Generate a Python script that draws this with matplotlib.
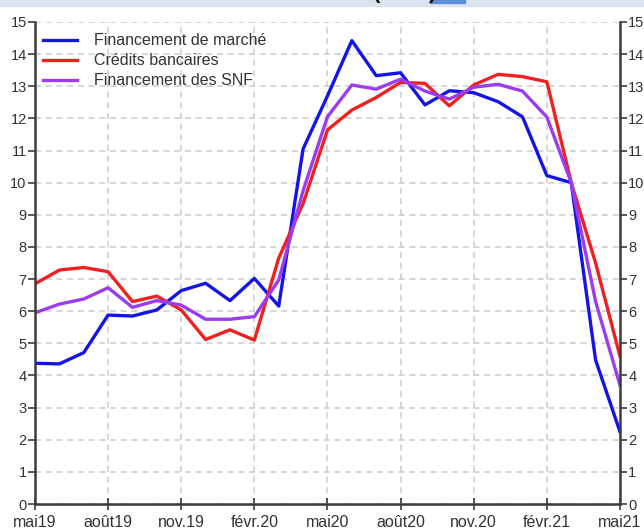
import numpy as np
import matplotlib.pyplot as plt
from matplotlib.patches import Rectangle

plt.rcParams['font.family'] = ['Liberation Sans', 'DejaVu Sans']

# monthly points, mai 2019 -> mai 2021
months = list(range(25))
tick_pos = [0, 3, 6, 9, 12, 15, 18, 21, 24]
tick_labels = ['mai19', 'août19', 'nov.19', 'févr.20', 'mai20', 'août20', 'nov.20', 'févr.21', 'mai21']

marche = [4.38, 4.36, 4.71, 5.88, 5.85, 6.04, 6.64, 6.87, 6.33, 7.02, 6.16, 11.05,
          12.7, 14.42, 13.33, 13.42, 12.42, 12.86, 12.80, 12.52, 12.05, 10.22, 10.0, 4.48, 2.25]
credits = [6.85, 7.28, 7.36, 7.23, 6.30, 6.47, 6.04, 5.12, 5.42, 5.10, 7.65, 9.35,
           11.64, 12.26, 12.65, 13.12, 13.09, 12.39, 13.04, 13.37, 13.30, 13.14, 10.0, 7.5, 4.6]
snf = [5.95, 6.22, 6.38, 6.73, 6.12, 6.33, 6.19, 5.75, 5.75, 5.83, 6.97, 9.75,
       12.05, 13.04, 12.91, 13.22, 12.85, 12.60, 12.97, 13.06, 12.85, 12.04, 10.0, 6.3, 3.7]

fig = plt.figure(figsize=(6.44, 5.31), dpi=100)
ax = fig.add_axes([0.0543, 0.0508, 0.9084, 0.9078])

ax.plot(months, marche, color='#1414e6', lw=2.4, label='Financement de marché')
ax.plot(months, credits, color='#f02020', lw=2.4, label='Crédits bancaires')
ax.plot(months, snf, color='#9b3cf0', lw=2.4, label='Financement des SNF')

ax.set_xlim(0, 24)
ax.set_ylim(0, 15)
ax.set_xticks(tick_pos)
ax.set_xticklabels(tick_labels)
ax.set_yticks(range(16))
ax.grid(True, color='#cccccc', ls=(0, (4, 3)), lw=1.1)
ax.set_axisbelow(True)

for s in ['left', 'right', 'bottom']:
    ax.spines[s].set_color('#3c3c3c')
    ax.spines[s].set_linewidth(1.8)
ax.spines['top'].set_visible(False)

ax.tick_params(axis='y', direction='out', length=5, width=1.2, color='#3c3c3c',
               labelsize=10.5, labelcolor='#333333', right=True, labelright=True, pad=1)
ax.tick_params(axis='x', direction='inout', length=8, width=1.2, color='#3c3c3c',
               labelsize=11.5, labelcolor='#333333', pad=4)

leg = ax.legend(loc='upper left', frameon=False, fontsize=11.5, handlelength=2.1,
                handletextpad=1.1, labelspacing=0.32, borderaxespad=0.3,
                bbox_to_anchor=(-0.005, 1.0))
for t in leg.get_texts():
    t.set_color('#333333')

# top band (cropped header)
fig.patches.append(Rectangle((0, 1 - 6 / 531), 1, 6 / 531, transform=fig.transFigure,
                             color='#dbe3ee', zorder=0))
fig.text(0.475, 1 - 3 / 531, 'Taux de croissance (en %)', ha='center', va='bottom',
         fontsize=15, fontweight='bold', color='#111111')
fig.patches.append(Rectangle((430 / 644, 1 - 3 / 531), 35 / 644, 3 / 531,
                             transform=fig.transFigure, color='#5b8fd9', zorder=1))

plt.savefig('out.png', dpi=100)
